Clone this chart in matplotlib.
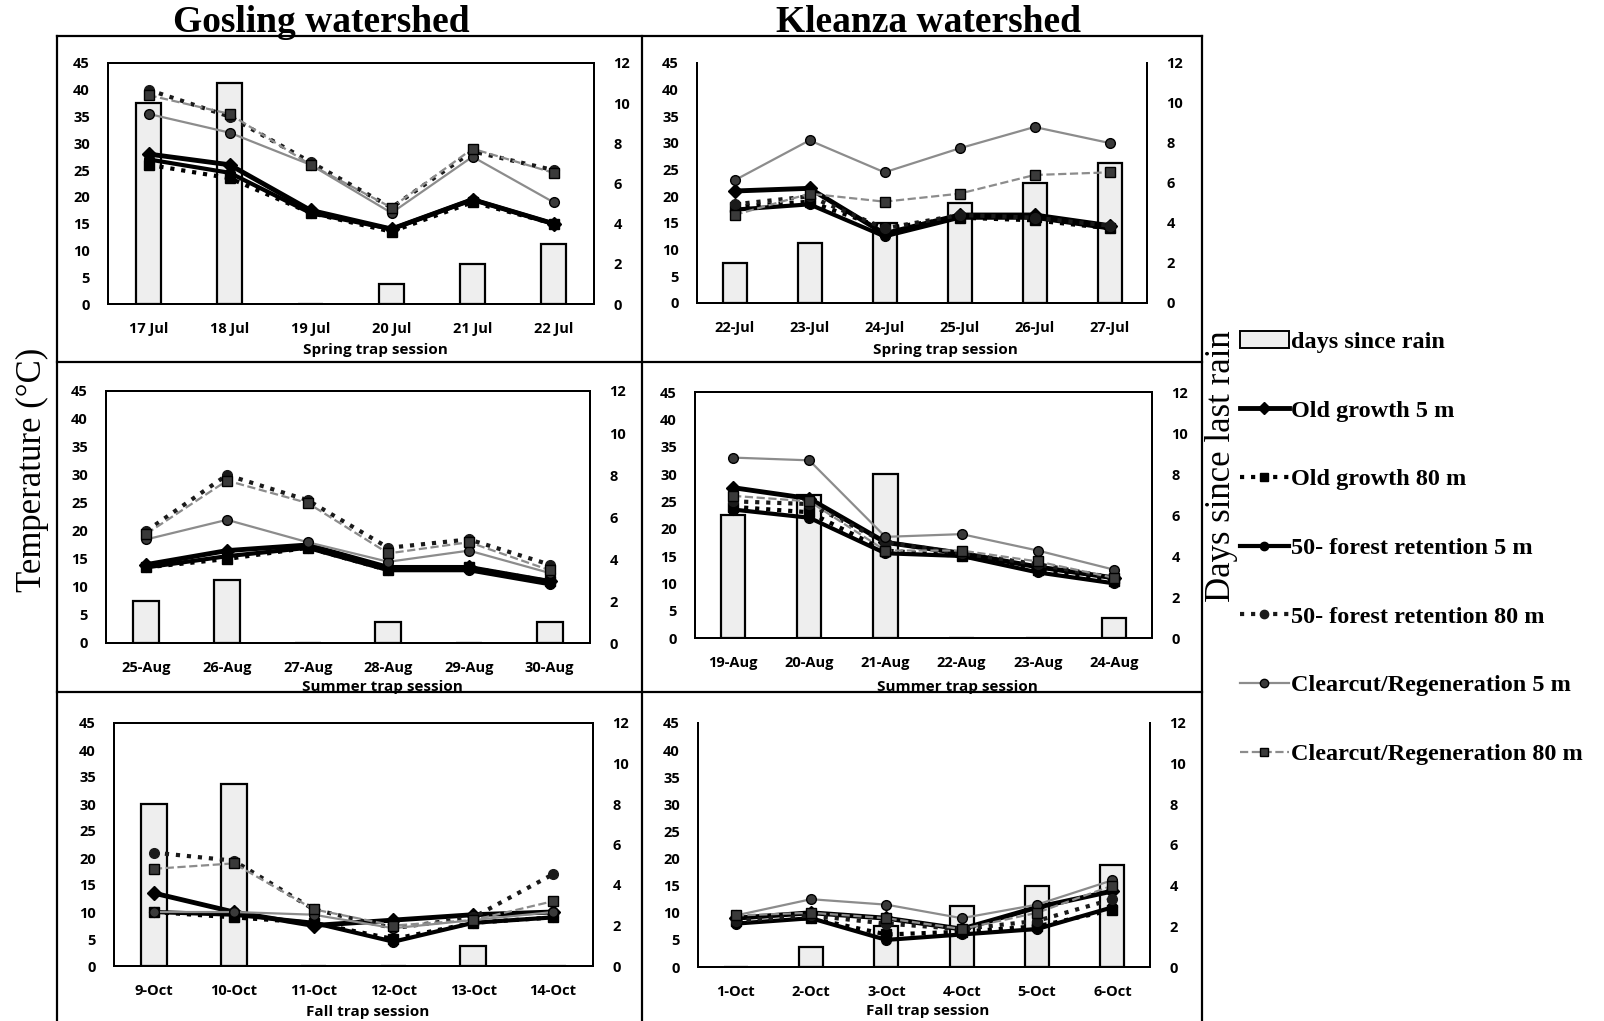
import matplotlib
matplotlib.use("Agg")
import matplotlib.pyplot as plt
from matplotlib.lines import Line2D
from matplotlib.patches import Patch

# ---- data ----
series_names = ["Old growth 5 m", "Old growth 80 m", "50- forest retention 5 m",
                "50- forest retention 80 m", "Clearcut/Regeneration 5 m",
                "Clearcut/Regeneration 80 m"]

gos_spring_days = ["17 Jul", "18 Jul", "19 Jul", "20 Jul", "21 Jul", "22 Jul"]
gos_spring_rain = [10, 11, 0, 1, 2, 3]
gos_spring_temp = [
    [28, 26, 17.5, 14, 19.5, 15],
    [26, 23.5, 17, 13.5, 19, 15],
    [27, 24.5, 17, 14, 19.5, 15],
    [40, 35, 26.5, 18, 28.5, 25],
    [35.5, 32, 26, 17, 27.5, 19],
    [39, 35.5, 26, 18, 29, 24.5],
]

kle_spring_days = ["22-Jul", "23-Jul", "24-Jul", "25-Jul", "26-Jul", "27-Jul"]
kle_spring_rain = [2, 3, 4, 5, 6, 7]
kle_spring_temp = [
    [21, 21.5, 13, 16.5, 16.5, 14.5],
    [18, 19, 14, 16, 15.5, 14],
    [17.5, 18.5, 12.5, 16, 16, 14],
    [18.5, 20, 14, 16.5, 16, 14.5],
    [23, 30.5, 24.5, 29, 33, 30],
    [16.5, 20.5, 19, 20.5, 24, 24.5],
]

gos_summer_days = ["25-Aug", "26-Aug", "27-Aug", "28-Aug", "29-Aug", "30-Aug"]
gos_summer_rain = [2, 3, 0, 1, 0, 1]
gos_summer_temp = [
    [14, 16.5, 17.5, 13.5, 13.5, 11],
    [13.5, 15, 17, 13, 13.5, 11],
    [13.5, 15.5, 17, 13, 13, 10.5],
    [20, 30, 25.5, 17, 18.5, 14],
    [18.5, 22, 18, 14.5, 16.5, 12.5],
    [19.5, 29, 25, 16, 18, 13],
]

kle_summer_days = ["19-Aug", "20-Aug", "21-Aug", "22-Aug", "23-Aug", "24-Aug"]
kle_summer_rain = [6, 7, 8, 0, 0, 1]
kle_summer_temp = [
    [27.5, 25.5, 17.5, 15.5, 13, 11],
    [24, 23, 16, 15, 12.5, 10.5],
    [23.5, 22, 15.5, 15, 12, 10],
    [25, 24.5, 17.5, 15.5, 13.5, 11],
    [33, 32.5, 18.5, 19, 16, 12.5],
    [26, 25, 16, 16, 14, 11],
]

gos_fall_days = ["9-Oct", "10-Oct", "11-Oct", "12-Oct", "13-Oct", "14-Oct"]
gos_fall_rain = [8, 9, 0, 0, 1, 0]
gos_fall_temp = [
    [13.5, 10, 7.5, 8.5, 9.5, 10],
    [10, 9, 8, 5, 8, 9],
    [10, 9.5, 8, 4.5, 8, 9],
    [21, 19.5, 10.5, 7, 9, 17],
    [10, 10, 9.5, 7, 8.5, 10],
    [18, 19, 10.5, 7.5, 8.5, 12],
]

kle_fall_days = ["1-Oct", "2-Oct", "3-Oct", "4-Oct", "5-Oct", "6-Oct"]
kle_fall_rain = [0, 1, 2, 3, 4, 5]
kle_fall_temp = [
    [9, 10, 9, 7, 11, 14],
    [8.5, 9, 6, 6.5, 7.5, 10.5],
    [8, 9, 5, 6, 7, 11],
    [8.5, 9.5, 8, 7, 8.5, 12.5],
    [9.5, 12.5, 11.5, 9, 11.5, 16],
    [9.5, 10, 9, 7, 10, 15],
]

# ---- styles ----
styles = [
    dict(color="black", lw=3.5, ls="-", marker="D", ms=7),
    dict(color="black", lw=3, ls=":", marker="s", ms=7),
    dict(color="black", lw=3, ls="-", marker="o", ms=7),
    dict(color="#1a1a1a", lw=3, ls=":", marker="o", ms=7),
    dict(color="#8c8c8c", lw=1.6, ls="-", marker="o", ms=7, mfc="#3a3a3a", mec="black"),
    dict(color="#8c8c8c", lw=1.6, ls="--", marker="s", ms=7, mfc="#3a3a3a", mec="black"),
]
bar_face = "#eeeeee"
tick_font = dict(family="Open Sans", weight="bold", size=10.5)

W, H = 1604, 1021
fig = plt.figure(figsize=(W / 100, H / 100), dpi=100)


def frac(x0, y0, x1, y1):
    return [x0 / W, 1 - y1 / H, (x1 - x0) / W, (y1 - y0) / H]


panels = [
    (frac(108, 63, 594, 304), gos_spring_days, gos_spring_rain, gos_spring_temp, True, "Spring trap session", 375, 350),
    (frac(697, 63, 1147, 303), kle_spring_days, kle_spring_rain, kle_spring_temp, False, "Spring trap session", 945, 350),
    (frac(106, 391, 590, 643), gos_summer_days, gos_summer_rain, gos_summer_temp, True, "Summer trap session", 382, 687),
    (frac(695, 392, 1152, 638), kle_summer_days, kle_summer_rain, kle_summer_temp, True, "Summer trap session", 957, 687),
    (frac(114, 723, 593, 966), gos_fall_days, gos_fall_rain, gos_fall_temp, True, "Fall trap session", 368, 1012),
    (frac(698, 723, 1150, 967), kle_fall_days, kle_fall_rain, kle_fall_temp, False, "Fall trap session", 928, 1011),
]

for rect, days, rain, temps, top_spine, session, sx, sy in panels:
    ax = fig.add_axes(rect)
    ax2 = ax.twinx()
    x = range(len(days))
    ax2.bar(x, rain, width=0.32, color=bar_face, edgecolor="black", linewidth=1.6)
    for vals, st in zip(temps, styles):
        ax.plot(x, vals, **st)
    ax.set_zorder(ax2.get_zorder() + 1)
    ax.patch.set_visible(False)

    ax.set_xlim(-0.5, len(days) - 0.5)
    ax.set_ylim(0, 45)
    ax2.set_ylim(0, 12)
    ax.set_yticks(range(0, 46, 5))
    ax2.set_yticks(range(0, 13, 2))
    ax.set_xticks(list(x))
    ax.set_xticklabels(days, fontdict=tick_font)
    ax.set_yticklabels([str(v) for v in range(0, 46, 5)], fontdict=tick_font)
    ax2.set_yticklabels([str(v) for v in range(0, 13, 2)], fontdict=tick_font)
    ax.tick_params(axis="x", length=0, pad=13)
    ax.tick_params(axis="y", length=0, pad=13)
    ax2.tick_params(axis="y", length=0, pad=14)
    for a in (ax, ax2):
        for s in a.spines.values():
            s.set_linewidth(1.4)
        a.spines["top"].set_visible(top_spine)
    fig.text(sx / W, 1 - sy / H, session, ha="center", va="center",
             family="Open Sans", weight="bold", size=11)

# table borders
lw = 1.6
for xv in (57, 642, 1202):
    fig.add_artist(Line2D([xv / W, xv / W], [1 - 36 / H, 0], color="black", lw=lw))
for yv in (36, 362, 692):
    fig.add_artist(Line2D([57 / W, 1202 / W], [1 - yv / H, 1 - yv / H], color="black", lw=lw))

# titles
fig.text(321 / W, 1 - 22 / H, "Gosling watershed", ha="center", va="center",
         family="Liberation Serif", weight="bold", size=27)
fig.text(928 / W, 1 - 22 / H, "Kleanza watershed", ha="center", va="center",
         family="Liberation Serif", weight="bold", size=27)
fig.text(32 / W, 1 - 470 / H, "Temperature (\u00b0C)", rotation=90, ha="center", va="center",
         family="Liberation Serif", size=25)
fig.text(1221 / W, 1 - 466 / H, "Days since last rain", rotation=90, ha="center", va="center",
         family="Liberation Serif", size=25)

# legend
handles = [Patch(facecolor=bar_face, edgecolor="black", linewidth=1.4)]
for st in styles:
    h = dict(st)
    h["ms"] = 6
    handles.append(Line2D([], [], **h))
labels = ["days since rain"] + series_names
fig.legend(handles, labels, loc="upper left", bbox_to_anchor=(1240 / W, 1 - 331 / H),
           frameon=False, prop=dict(family="Liberation Serif", weight="bold", size=17.5),
           labelspacing=1.92, handlelength=2.0, handletextpad=0.1, borderaxespad=0,
           borderpad=0)

fig.savefig("out.png", dpi=100)
